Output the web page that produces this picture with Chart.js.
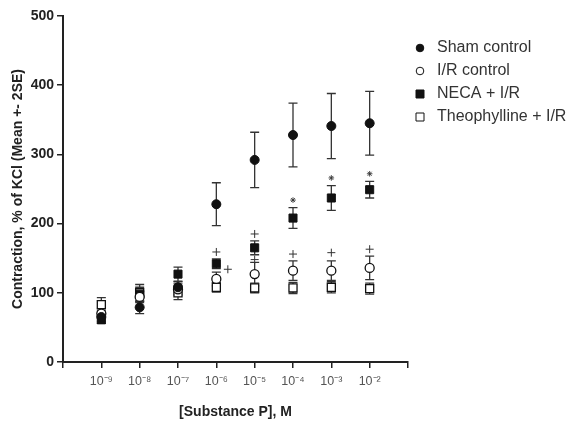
<!DOCTYPE html>
<html>
<head>
<meta charset="utf-8">
<script src="https://cdn.jsdelivr.net/npm/chart.js@4"></script>
<style>
  body { margin: 0; background: #fff; }
  canvas { display: block; }
</style>
</head>
<body>
<canvas id="chart" width="569" height="431"></canvas>
<script>
// Konzentration als Exponent (10^x M)
const concentrations = [-9, -8, -7, -6, -5, -4, -3, -2];
const tickLabels = ["10⁻⁹", "10⁻⁸", "10⁻⁷", "10⁻⁶", "10⁻⁵", "10⁻⁴", "10⁻³", "10⁻²"];

// Mittelwerte und Fehler (2SE) pro Gruppe
const shamMean = [65, 79, 108, 228, 292, 328, 341, 345];
const shamErr = [6, 9, 8, 31, 40, 46, 47, 46];
const irMean = [70, 94, 105, 120, 127, 132, 132, 136];
const irErr = [5, 8, 8, 10, 17, 14, 14, 17];
const necaMean = [61, 98, 127, 142, 165, 208, 237, 249];
const necaErr = [5, 10, 10, 7, 10, 15, 18, 12];
const theoMean = [83, 100, 100, 108, 107, 107, 108, 106];
const theoErr = [10, 12, 10, 7, 7, 8, 8, 8];

// Signifikanz-Marker
const plusX = [-6, -5.7, -5, -5, -4, -3, -2];
const plusY = [159, 134, 185, 148, 156, 158, 163];
const starX = [-4, -3, -2];
const starY = [234, 266, 272];

const FONT = "'Liberation Sans', Arial, sans-serif";
const INK = "#222";

const toPoints = (xs, ys) => xs.map((x, i) => ({ x, y: ys[i] }));

// Fehlerbalken über die Skalen zeichnen
const errorBars = {
  id: "errorBars",
  beforeDatasetsDraw(chart) {
    const { ctx, scales: { x, y } } = chart;
    ctx.save();
    ctx.strokeStyle = "#333";
    ctx.lineWidth = 1.3;
    chart.data.datasets.forEach((ds) => {
      if (!ds.errors) return;
      ds.data.forEach((pt, i) => {
        const px = x.getPixelForValue(pt.x);
        const top = y.getPixelForValue(pt.y + ds.errors[i]);
        const bot = y.getPixelForValue(pt.y - ds.errors[i]);
        ctx.beginPath();
        ctx.moveTo(px, top);
        ctx.lineTo(px, bot);
        ctx.moveTo(px - 4.5, top);
        ctx.lineTo(px + 4.5, top);
        ctx.moveTo(px - 4.5, bot);
        ctx.lineTo(px + 4.5, bot);
        ctx.stroke();
      });
    });
    ctx.restore();
  },
};

// Legende rechts neben der Plotfläche (eingebaute Legende wird bei 569px zu schmal)
const sideLegend = {
  id: "sideLegend",
  afterDraw(chart) {
    const { ctx, chartArea } = chart;
    const x0 = chartArea.right + 12;
    ctx.save();
    ctx.font = `16px ${FONT}`;
    ctx.textBaseline = "middle";
    chart.data.datasets.forEach((ds, i) => {
      if (!ds.errors) return;
      const y = 48 + i * 23;
      ctx.fillStyle = ds.backgroundColor;
      ctx.strokeStyle = ds.borderColor;
      ctx.lineWidth = 1;
      ctx.beginPath();
      if (ds.pointStyle === "rect") ctx.rect(x0 - 4, y - 4, 8, 8);
      else ctx.arc(x0, y, 3.8, 0, Math.PI * 2);
      ctx.fill();
      ctx.stroke();
      ctx.fillStyle = "#333";
      ctx.fillText(ds.label, x0 + 17, y);
    });
    ctx.restore();
  },
};

function series(label, means, errors, style, filled) {
  return {
    label,
    data: toPoints(concentrations, means),
    errors,
    pointStyle: style,
    pointRadius: style === "rect" ? 5.7 : 4.5,
    backgroundColor: filled ? "#111" : "#fff",
    borderColor: "#111",
    borderWidth: filled ? 1 : 1.3,
    showLine: false,
  };
}

new Chart(document.getElementById("chart"), {
  type: "scatter",
  data: {
    datasets: [
      series("Sham control", shamMean, shamErr, "circle", true),
      series("I/R control", irMean, irErr, "circle", false),
      series("NECA + I/R", necaMean, necaErr, "rect", true),
      series("Theophylline + I/R", theoMean, theoErr, "rect", false),
      {
        label: "plus",
        data: toPoints(plusX, plusY),
        pointStyle: "cross",
        pointRadius: 4,
        borderColor: "#333",
        borderWidth: 1,
      },
      {
        label: "star",
        data: toPoints(starX, starY),
        pointStyle: "star",
        pointRadius: 2.8,
        borderColor: "#333",
        borderWidth: 0.9,
      },
    ],
  },
  options: {
    responsive: false,
    animation: false,
    layout: { padding: { top: 16, left: 0, right: 161, bottom: 0 } },
    scales: {
      x: {
        type: "linear",
        min: -10,
        max: -1,
        afterFit: (s) => { s.height = 69; },
        ticks: {
          stepSize: 1,
          autoSkip: false,
          maxRotation: 0,
          padding: 6,
          color: "#555",
          font: { family: FONT, size: 12.5 },
          callback: (v) => {
            const i = concentrations.indexOf(v);
            return i >= 0 ? tickLabels[i] : "";
          },
        },
        grid: { drawOnChartArea: false, tickLength: 6, color: INK, lineWidth: 1.5 },
        border: { color: INK, width: 2 },
        title: {
          display: true,
          text: "[Substance P], M",
          color: INK,
          font: { family: FONT, size: 14, weight: "bold" },
          padding: { top: 0, bottom: 10 },
        },
      },
      y: {
        min: 0,
        max: 500,
        afterFit: (s) => { s.width = 63; },
        ticks: {
          stepSize: 100,
          padding: 3,
          color: INK,
          font: { family: FONT, size: 14, weight: "bold" },
        },
        grid: { drawOnChartArea: false, tickLength: 6, color: INK, lineWidth: 1.5 },
        border: { color: INK, width: 2 },
        title: {
          display: true,
          text: "Contraction, % of KCl (Mean +- 2SE)",
          color: INK,
          font: { family: FONT, size: 14, weight: "bold" },
          padding: { top: 10, bottom: 0 },
        },
      },
    },
    plugins: {
      tooltip: { enabled: false },
      legend: { display: false },
    },
  },
  plugins: [errorBars, sideLegend],
});
</script>
</body>
</html>
